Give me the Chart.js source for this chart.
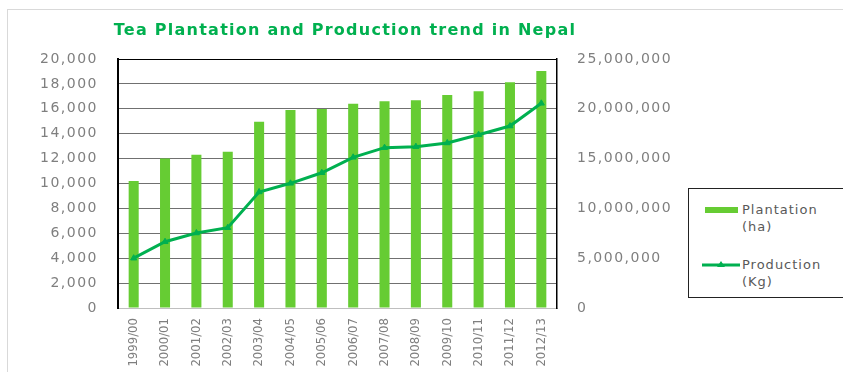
<!DOCTYPE html>
<html>
<head>
<meta charset="utf-8">
<script src="https://cdn.jsdelivr.net/npm/chart.js@4/dist/chart.umd.min.js"></script>
<style>
  html, body { margin: 0; padding: 0; background: #fff; }
  body { width: 843px; height: 372px; position: relative; overflow: hidden; }
  #frame { position: absolute; left: 7px; top: 9px; width: 900px; height: 400px; border-left: 1px solid #d9d9d9; border-top: 1px solid #d9d9d9; }
  #wrap { position: absolute; left: 0; top: 0; width: 843px; height: 372px; }
  #title { position: absolute; left: 0; width: 690px; top: 20px; text-align: center; font: bold 16px "DejaVu Sans", sans-serif; letter-spacing: 1.25px; color: #00b04f; }
  #legend { position: absolute; left: 688px; top: 188px; width: 170px; height: 110px; border: 1px solid #222; box-sizing: border-box; background: #fff; }
  .item { position: absolute; left: 0; font: 13px "DejaVu Sans", sans-serif; letter-spacing: 1px; color: #595959; line-height: 17px; }
  .item .txt { position: absolute; left: 53px; top: 0; white-space: nowrap; }
  .item svg { position: absolute; left: 14px; }
</style>
</head>
<body>
<div id="frame"></div>
<div id="wrap"><canvas id="c" width="843" height="372"></canvas></div>
<div id="title"></div>
<div id="legend"></div>
<script>
const chartTitle = "Tea Plantation and Production trend in Nepal";
const categories = ["1999/00","2000/01","2001/02","2002/03","2003/04","2004/05","2005/06","2006/07","2007/08","2008/09","2009/10","2010/11","2011/12","2012/13"];
const plantationLabel = "Plantation (ha)";
const plantation = [10200, 12000, 12300, 12550, 14950, 15900, 15980, 16400, 16600, 16680, 17100, 17400, 18130, 19040];
const productionLabel = "Production (Kg)";
const production = [5000000, 6650000, 7530000, 8060000, 11650000, 12520000, 13580000, 15130000, 16100000, 16200000, 16570000, 17400000, 18270000, 20550000];
const leftTicks = { min: 0, max: 20000, step: 2000 };
const rightTicks = { min: 0, max: 25000000, step: 5000000 };

const barColor = "#66cc33";
const lineColor = "#00b050";

document.getElementById('title').textContent = chartTitle;

function wrapX(c) {
  const sx = c.scales.x;
  if (sx && !sx.__wrapped) {
    const orig = sx.drawLabels.bind(sx);
    sx.drawLabels = function (area) {
      const g = c.ctx;
      const prevLS = g.letterSpacing, prevFS = g.fontStretch;
      g.letterSpacing = '0px';
      try { g.fontStretch = 'condensed'; } catch (e) {}
      orig(area);
      g.letterSpacing = prevLS;
      try { g.fontStretch = prevFS; } catch (e) {}
    };
    sx.__wrapped = true;
  }
}

const spacing = {
  id: 'spacing',
  beforeUpdate(c) { c.ctx.letterSpacing = '1.5px'; },
  beforeLayout(c) { c.ctx.letterSpacing = '1.5px'; },
  afterLayout(c) { wrapX(c); },
  beforeDraw(c) { c.ctx.letterSpacing = '1.5px'; wrapX(c); }
};

const ctx = document.getElementById('c');
const chart = new Chart(ctx, {
  data: {
    labels: categories,
    datasets: [
      {
        type: 'line', label: productionLabel, data: production, yAxisID: 'y1', order: 0,
        borderColor: lineColor, backgroundColor: lineColor, borderWidth: 3,
        pointStyle: 'triangle', pointRadius: 3.5, pointBorderWidth: 1, tension: 0
      },
      {
        type: 'bar', label: plantationLabel, data: plantation, yAxisID: 'y', order: 1,
        backgroundColor: barColor, borderWidth: 0,
        categoryPercentage: 1.0, barPercentage: 0.32
      }
    ]
  },
  options: {
    responsive: false,
    animation: false,
    devicePixelRatio: 1,
    layout: { padding: { top: 59, left: 0, right: 0, bottom: 0 } },
    plugins: { legend: { display: false }, title: { display: false }, tooltip: { enabled: false } },
    scales: {
      x: {
        grid: { display: false, drawTicks: false },
        border: { color: '#bfbfbf', width: 1 },
        ticks: {
          minRotation: 90, maxRotation: 90, padding: 10, autoSkip: false,
          color: '#7f7f7f', font: { family: '"DejaVu Sans Condensed", "DejaVu Sans", sans-serif', size: 13 }
        },
        afterFit(s) { s.height = 64; }
      },
      y: {
        position: 'left', min: leftTicks.min, max: leftTicks.max,
        ticks: { stepSize: leftTicks.step, padding: 20, color: '#7f7f7f', font: { family: '"DejaVu Sans", sans-serif', size: 14 } },
        grid: {
          drawTicks: false,
          color: (c) => c.tick && c.tick.value === leftTicks.max ? '#000' : (c.tick && c.tick.value === 0 ? '#bfbfbf' : '#707070'),
          lineWidth: 1
        },
        border: { color: '#000', width: 2 },
        afterFit(s) { s.width = 118; }
      },
      y1: {
        position: 'right', min: rightTicks.min, max: rightTicks.max,
        ticks: { stepSize: rightTicks.step, padding: 20, color: '#7f7f7f', font: { family: '"DejaVu Sans", sans-serif', size: 14 } },
        grid: { display: false, drawTicks: false },
        border: { color: '#000', width: 1.5 },
        afterFit(s) { s.width = 286; }
      }
    }
  },
  plugins: [spacing]
});

// HTML legend built from dataset labels
const legend = document.getElementById('legend');
const items = [
  { label: plantationLabel, top: 12, kind: 'bar', color: barColor },
  { label: productionLabel, top: 67, kind: 'line', color: lineColor }
];
items.forEach(it => {
  const d = document.createElement('div');
  d.className = 'item';
  d.style.top = it.top + 'px';
  const parts = it.label.split(' ');
  const t = document.createElement('div');
  t.className = 'txt';
  t.innerHTML = parts[0] + '<br>' + parts.slice(1).join(' ');
  let svg;
  if (it.kind === 'bar') {
    svg = '<svg width="36" height="12" style="top:3px"><rect x="2" y="3" width="33" height="6" fill="' + it.color + '"/></svg>';
  } else {
    svg = '<svg width="40" height="12" style="top:3px;left:13px"><line x1="0" y1="6" x2="38" y2="6" stroke="' + it.color + '" stroke-width="3"/><polygon points="19,2 23,8 15,8" fill="' + it.color + '"/></svg>';
  }
  d.innerHTML = svg;
  d.appendChild(t);
  legend.appendChild(d);
});
</script>
</body>
</html>
